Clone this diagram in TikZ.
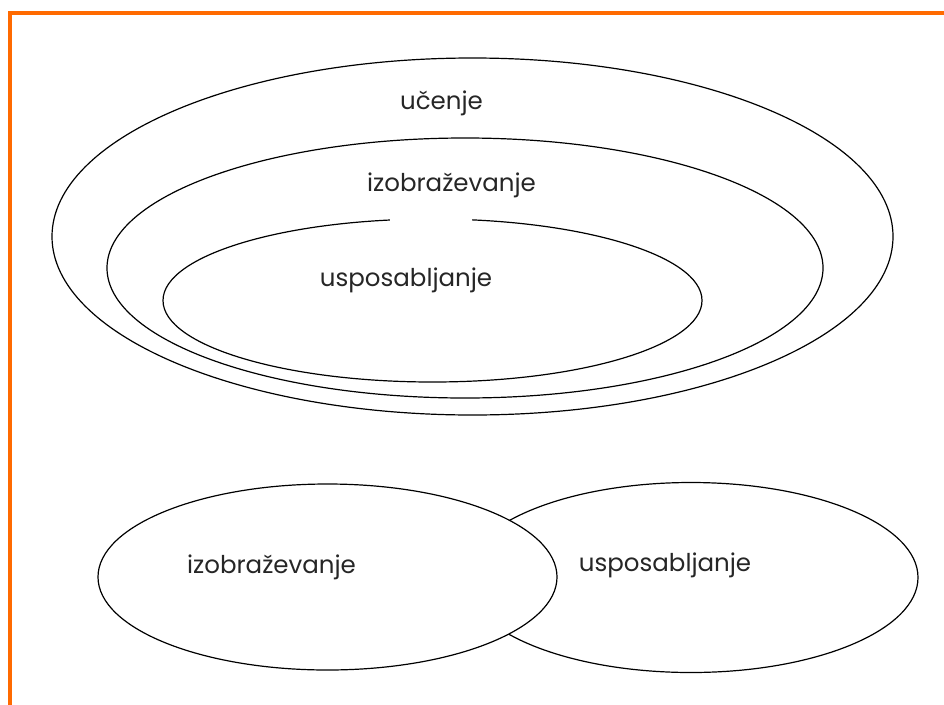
\documentclass[tikz,border=0pt]{standalone}
\usepackage{fontspec}
\setmainfont{Poppins}
\usetikzlibrary{shapes.geometric}
\definecolor{frameorange}{HTML}{FF6A00}
\tikzset{
  ell/.style={ellipse, draw=black, line width=1.2pt, inner sep=0pt, outer sep=0pt},
  lbl/.style={font=\fontsize{24.5}{28}\selectfont, inner sep=0pt, text=black!85}
}
\begin{document}
\begin{tikzpicture}[x=1pt,y=-1pt]
\useasboundingbox (0,0) rectangle (944,704);
\fill[white] (0,0) rectangle (944,704);
\draw[frameorange, line width=4pt] (960,12.5) -- (10,12.5) -- (10,720);
% nested
\node[ell, minimum width=841pt, minimum height=357pt] (ucenje) at (472.5,236.5) {};
\node[ell, minimum width=716pt, minimum height=260pt] (izob) at (465,268) {};
\node[ell, minimum width=539pt, minimum height=163pt] (uspo) at (432.5,300.5) {};
\fill[white] (390,214) rectangle (472,224);
\node[lbl] (t1) at (441.5,103) {učenje};
\node[lbl] (t2) at (451.5,185) {izobraževanje};
\node[lbl] (t3) at (406,280) {usposabljanje};
% overlapping
\node[ell, minimum width=454pt, minimum height=190pt] (usR) at (691,577.5) {};
\node[ell, fill=white, minimum width=459pt, minimum height=186pt] (izL) at (327.5,577) {};
\node[lbl] (t4) at (271.5,567) {izobraževanje};
\node[lbl] (t5) at (665,565) {usposabljanje};
\end{tikzpicture}
\end{document}
